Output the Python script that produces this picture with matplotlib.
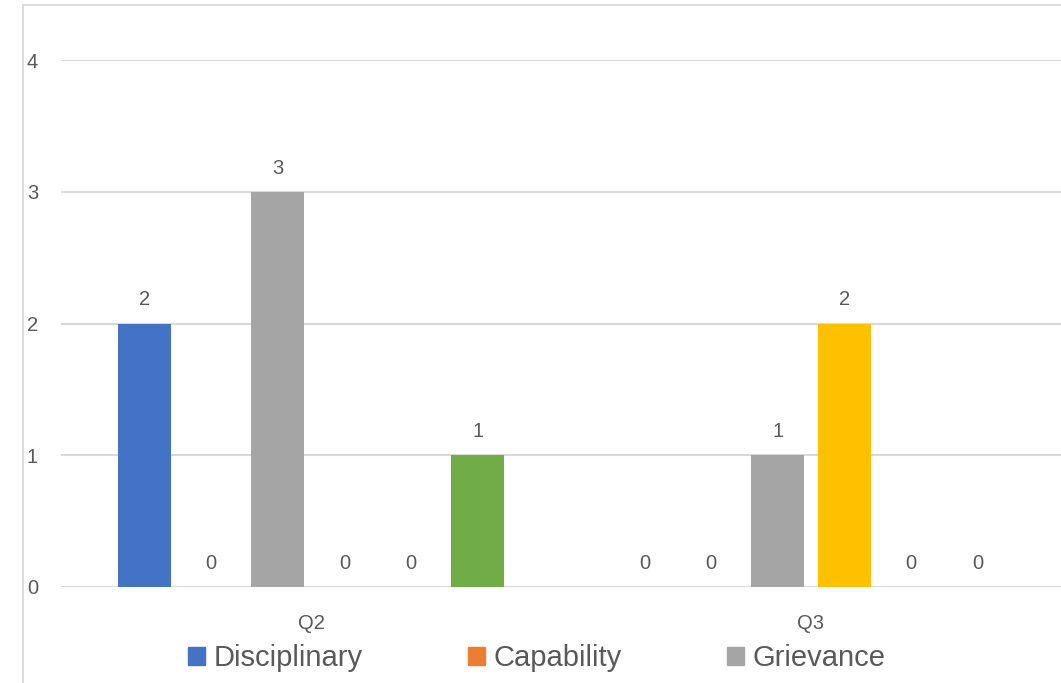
"""Q2/Q3 case counts - clustered bars"""
import numpy as np
import matplotlib
matplotlib.use('Agg')
import matplotlib.pyplot as plt
from matplotlib.patches import Rectangle, Patch

matplotlib.rcParams['font.family'] = ['Liberation Sans', 'DejaVu Sans']

quarters = ['Q2', 'Q3']
series_names = ['Disciplinary', 'Capability', 'Grievance', 'Series 4', 'Series 5', 'Series 6']
series_colors = ['#4472C4', '#ED7D31', '#A5A5A5', '#FFC000', '#5B9BD5', '#70AD47']
disciplinary = [2, 0]
capability = [0, 0]
grievance = [3, 1]
series4 = [0, 2]
series5 = [0, 0]
series6 = [1, 0]
values = [disciplinary, capability, grievance, series4, series5, series6]
legend_shown = ['Disciplinary', 'Capability', 'Grievance']

TXT = '#595959'
GRID = '#D9D9D9'
W, H = 1061, 683

fig = plt.figure(figsize=(W / 100, H / 100), dpi=100)
# chart border (picture is a crop of the chart, border runs off right/bottom)
fig.patches.append(Rectangle((23 / W, -0.1), 1.2, 1 - 5 / H + 0.1, transform=fig.transFigure,
                             fill=False, edgecolor=GRID, linewidth=1.3))

ax = fig.add_axes([61 / W, 1 - 587 / H, 1 - 61 / W, (587 - 60) / H])
n = len(values)
step = 1.0 / 7.5
bw = step * 0.8
x = np.arange(len(quarters)) + 0.5
for i, (name, vals, col) in enumerate(zip(series_names, values, series_colors)):
    xs = x + (i - (n - 1) / 2) * step
    ax.bar(xs, vals, width=bw, color=col, zorder=3, label=name)
    for xx, v in zip(xs, vals):
        ax.annotate(f'{v}', (xx, v), xytext=(0, 17), textcoords='offset points',
                    ha='center', va='center', fontsize=14.5, color=TXT)

ax.set_xlim(0, 2)
ax.set_ylim(0, 4)
ax.set_yticks([0, 1, 2, 3, 4])
ax.set_xticks(x)
ax.set_xticklabels(quarters)
ax.tick_params(axis='both', length=0, labelsize=14.5, labelcolor=TXT)
ax.tick_params(axis='x', pad=19.5)
ax.tick_params(axis='y', pad=24.5)
for lbl in ax.get_yticklabels():
    lbl.set_horizontalalignment('left')
ax.yaxis.grid(True, color=GRID, linewidth=1.5, zorder=0)
ax.set_axisbelow(True)
for s in ax.spines.values():
    s.set_visible(False)
ax.axhline(0, color=GRID, linewidth=2, zorder=2)

handles = [Patch(color=series_colors[series_names.index(nm)], label=nm) for nm in legend_shown]
fig.legend(handles=handles, loc='center', bbox_to_anchor=(537 / W, 1 - 658 / H), ncol=3,
           frameon=False, fontsize=21, labelcolor=TXT, handlelength=0.58, handleheight=0.58,
           handletextpad=0.3, columnspacing=3.6, borderaxespad=0, borderpad=0)

plt.savefig('out.png', dpi=100)
